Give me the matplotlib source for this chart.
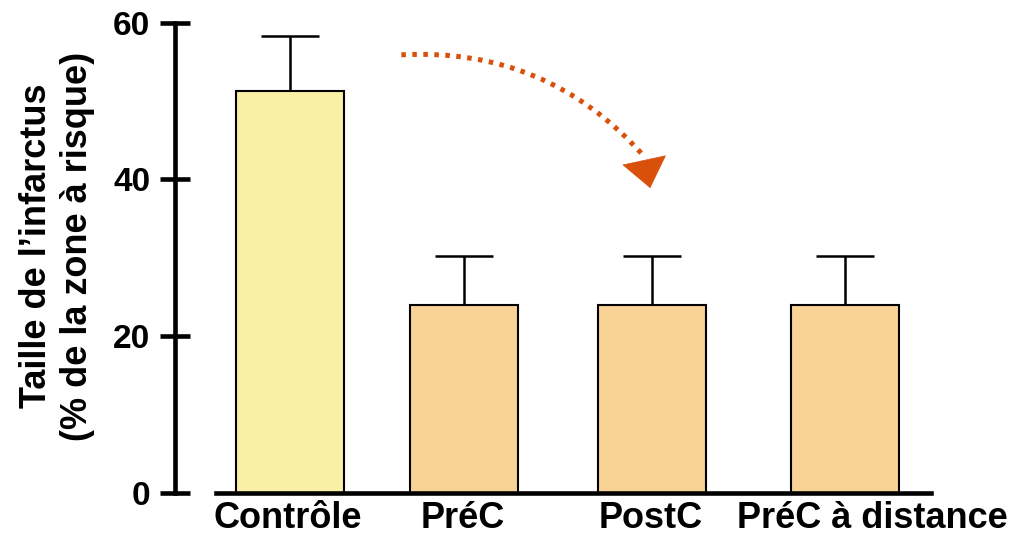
import matplotlib
matplotlib.use("Agg")
import matplotlib.pyplot as plt

# -----------------------------
# DATA
# -----------------------------
groups = ["Contrôle", "PréC", "PostC", "PréC à distance"]
means = [51.3, 24.0, 24.0, 24.0]
errors = [7.0, 6.2, 6.2, 6.2]
yticks = [0, 20, 40, 60]
ylabel = "Taille de l’infarctus\n(% de la zone à risque)"

# -----------------------------
# STYLE / LAYOUT
# -----------------------------
xpos = [0, 1, 2.08, 3.19]
label_pos = [-0.014, 0.994, 2.07, 3.345]
bar_colors = ["#F9F0A5", "#F9D295", "#F9D295", "#F9D295"]
arrow_color = "#D9500B"

plt.rcParams['font.family'] = ['Liberation Sans', 'DejaVu Sans']
plt.rcParams['font.weight'] = 'bold'

fig = plt.figure(figsize=(10.19, 5.43), dpi=100)
ax = fig.add_axes([0.2120, 0.0921, 0.7017, 0.8661])

ax.bar(xpos, means, width=0.62, color=bar_colors, edgecolor='black',
       linewidth=1.5, zorder=2)
_, caps, _ = ax.errorbar(xpos, means, yerr=[[0]*len(errors), errors],
                         fmt='none', ecolor='black', elinewidth=1.8,
                         capsize=20.9, capthick=1.8, zorder=3)
# only keep the upper caps
for c in caps:
    if list(c.get_ydata()) == means:
        c.set_visible(False)

ax.set_xlim(-0.425, 3.684)
ax.set_ylim(0, 60)

for s in ['top', 'right']:
    ax.spines[s].set_visible(False)
ax.spines['left'].set_position(('outward', 29.5))
ax.spines['left'].set_linewidth(3.3)
ax.spines['left'].set_bounds(0, 60)
ax.spines['bottom'].set_linewidth(3.3)

ax.set_yticks(yticks)
ax.set_yticklabels([str(t) for t in yticks])
ax.tick_params(axis='y', direction='inout', length=21.6, width=3.3,
               labelsize=24, pad=7)
ax.set_xticks(label_pos)
ax.set_xticklabels(groups)
ax.tick_params(axis='x', length=0, labelsize=26, pad=6)

fig.text(57 / 1019, 0.547, ylabel, rotation=90, ha='center', va='center',
         fontsize=26, fontweight='bold', multialignment='center',
         linespacing=1.25)

# curved dotted line ...
ax.annotate('', xy=(2.029, 43.1), xytext=(0.64, 55.9),
            arrowprops=dict(arrowstyle='-',
                            connectionstyle='arc3,rad=-0.24',
                            color=arrow_color, lw=3.6, capstyle='butt',
                            linestyle=(0, (0.9, 1.3)),
                            shrinkA=0, shrinkB=0))
# ... and its solid head
ax.annotate('', xy=(2.07, 38.9), xytext=(2.037, 42.3),
            arrowprops=dict(arrowstyle='-|>,head_length=1.0,head_width=0.78',
                            mutation_scale=20, color=arrow_color, lw=0.5,
                            shrinkA=0, shrinkB=0))

fig.savefig("out.png", dpi=100)
